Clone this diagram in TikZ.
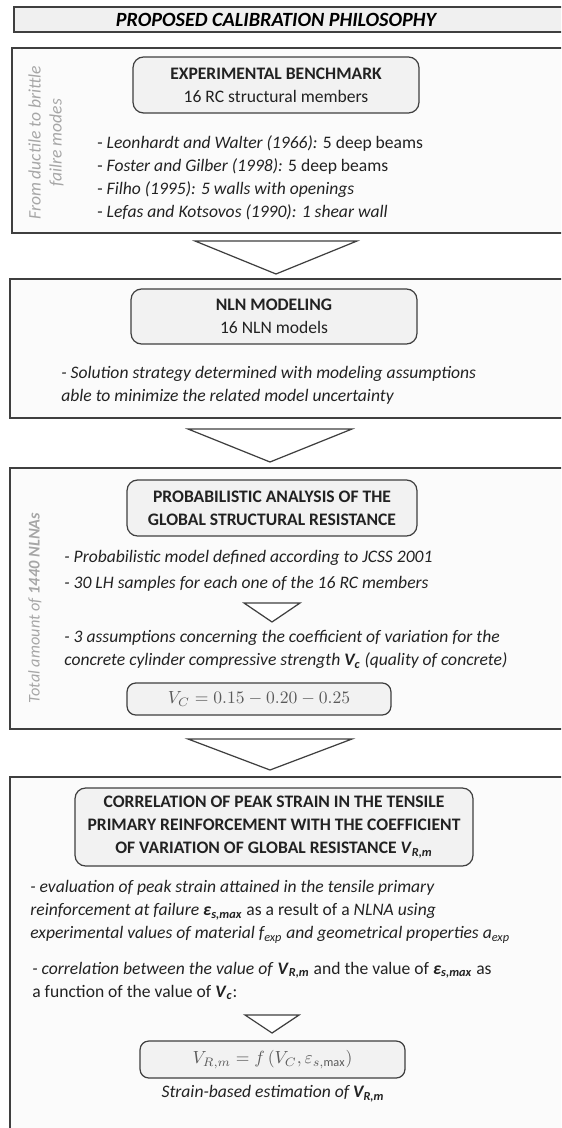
\documentclass[tikz,border=0pt]{standalone}
\usepackage{fontspec}
\setmainfont{Carlito}
\usepackage{tikz}
\usetikzlibrary{positioning}
\definecolor{linegray}{HTML}{3F3F3F}
\definecolor{inkgray}{HTML}{222222}
\definecolor{sidegray}{HTML}{A6A6A6}
\definecolor{fmlgray}{HTML}{5A5A5A}
\tikzset{
    frame/.style={draw=linegray, fill=black!1.5, line width=0.7pt},       % outer stage frame
    titleframe/.style={draw=linegray, fill=black!6, line width=1pt},
    stagebox/.style={draw=linegray, fill=black!5, rounded corners=6pt,
                     line width=0.7pt, align=center, inner sep=0pt, text=inkgray,
                     font=\fontsize{10}{13}\selectfont},
    fmlbox/.style={draw=linegray, fill=black!5, rounded corners=5pt,
                   line width=0.7pt, inner sep=0pt, text=fmlgray},
    body/.style={align=left, inner sep=0pt, text=inkgray,
                 font=\fontsize{10}{13}\selectfont},
    itbody/.style={body, font=\fontsize{10}{13}\selectfont\itshape},
    side/.style={rotate=90, align=center, inner sep=0pt, text=sidegray,
                 font=\fontsize{10}{12}\selectfont\itshape},
    chevron/.style={draw=linegray, fill=white, line width=0.7pt, line join=miter}
}
\newcommand{\Vrm}{\textbf{\textit{V}\textsubscript{\textit{R,m}}}}
\newcommand{\epsmax}{\textbf{\textit{ε}\textsubscript{\textit{s,max}}}}

\begin{document}
\begin{tikzpicture}[x=0.02cm,y=-0.02cm]
    \useasboundingbox (0,0) rectangle (561,1128);
    \clip (0,0) rectangle (561,1128);

    % outer frames
    \draw[titleframe] (14,7) rectangle (600,32);
    \draw[frame] (12,48) rectangle (600,233);
    \draw[frame] (10,279) rectangle (600,418);
    \draw[frame] (10,468) rectangle (600,729);
    \draw[frame] (10,777) rectangle (600,1200);

    \node[inner sep=0pt, text=black, font=\fontsize{11.5}{14}\selectfont\bfseries\itshape] (title) at (276,20) {PROPOSED CALIBRATION PHILOSOPHY};

    % chevrons between and inside the stages
    \foreach \cx/\cy/\hw/\h in {276/241/81/33, 270/429/82/33, 272/603/28/19, 270/739/82/31, 272/1015/27/18}{
        \draw[chevron] (\cx-\hw,\cy) -- (\cx+\hw,\cy) -- (\cx,\cy+\h) -- cycle;
    }

    % stage 1
    \node[stagebox, minimum width=5.72cm, minimum height=1.12cm] (bench) at (276,85)
        {\textbf{EXPERIMENTAL BENCHMARK}\\16 RC structural members};
    \node[body, anchor=west] (benchlist) at (97,178)
        {- \textit{Leonhardt and Walter (1966):} 5 deep beams\\
         - \textit{Foster and Gilber (1998):} 5 deep beams\\
         - \textit{Filho (1995): 5 walls with openings}\\
         - \textit{Lefas and Kotsovos (1990): 1 shear wall}};
    \node[side] (benchside) at (46,143) {From ductile to brittle\\failre modes};

    % stage 2
    \node[stagebox, minimum width=5.72cm, minimum height=1.10cm] (nln) at (274,316.5)
        {\textbf{NLN MODELING}\\16 NLN models};
    \node[itbody, anchor=west] (nlntext) at (61,385.5)
        {- Solution strategy determined with modeling assumptions\\
         able to minimize the related model uncertainty};

    % stage 3
    \node[stagebox, minimum width=5.80cm, minimum height=1.12cm] (prob) at (272,508)
        {\textbf{PROBABILISTIC ANALYSIS OF THE}\\\textbf{GLOBAL STRUCTURAL RESISTANCE}};
    \node[itbody, anchor=west] (probtext) at (64,571)
        {- Probabilistic model defined according to JCSS 2001\\[2pt]
         - 30 LH samples for each one of the 16 RC members};
    \node[itbody, anchor=west] (probcv) at (64,649.5)
        {- 3 assumptions concerning the coefficient of variation for the\\
         concrete cylinder compressive strength \textbf{V\textsubscript{c}} (quality of concrete)};
    \node[fmlbox, minimum width=5.28cm, minimum height=0.64cm] (cvvalues) at (259,699)
        {$V_C = 0.15 - 0.20 - 0.25$};
    \node[side, font=\fontsize{9.3}{12}\selectfont\itshape] (probside) at (35,608) {Total amount of \textbf{1440 NLNAs}};

    % stage 4
    \node[stagebox, minimum width=7.96cm, minimum height=1.56cm] (corr) at (274,827)
        {\textbf{CORRELATION OF PEAK STRAIN IN THE TENSILE}\\
         \textbf{PRIMARY REINFORCEMENT WITH THE COEFFICIENT}\\
         \textbf{OF VARIATION OF GLOBAL RESISTANCE} \Vrm};
    \node[body, anchor=west] (corrtext) at (30,912)
        {\textit{- evaluation of peak strain attained in the tensile primary}\\
         \textit{reinforcement at failure} \epsmax{} as a result of a \textit{NLNA using}\\
         \textit{experimental values of material f\textsubscript{exp} and geometrical properties a\textsubscript{exp}}};
    \node[body, anchor=west] (corrfun) at (32,981)
        {\textit{- correlation between the value of} \Vrm{} and the value of \epsmax{} as\\
         a function of the value of \textbf{\textit{V}\textsubscript{\textit{c}}}:};
    \node[fmlbox, minimum width=5.30cm, minimum height=0.74cm] (strainfml) at (272.5,1059.5)
        {$V_{R,m} = f\left(V_C, \varepsilon_{s,\max}\right)$};
    \node[itbody, anchor=north] (estimate) at (273,1085)
        {Strain-based estimation of \Vrm};
\end{tikzpicture}
\end{document}
